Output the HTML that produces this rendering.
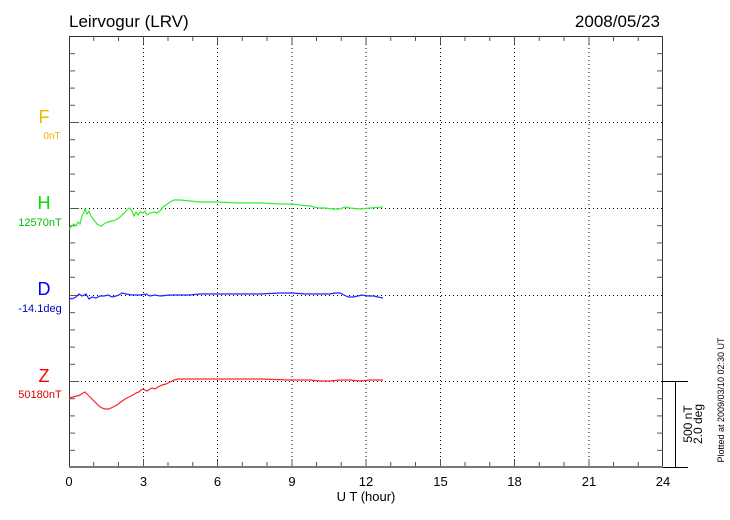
<!DOCTYPE html>
<html><head><meta charset="utf-8"><style>
html,body{margin:0;padding:0;background:#fff;}
svg{display:block;font-family:"Liberation Sans",sans-serif;}
</style></head><body>
<svg width="730" height="520" viewBox="0 0 730 520" xmlns="http://www.w3.org/2000/svg">
<rect width="730" height="520" fill="#fff"/>
<text x="69" y="27" font-size="17" fill="#000">Leirvogur (LRV)</text>
<text x="660" y="27" font-size="17" fill="#000" text-anchor="end">2008/05/23</text>
<g stroke="#000" stroke-width="1" stroke-dasharray="1,3" fill="none">
<line x1="143.5" y1="36" x2="143.5" y2="467"/>
<line x1="217.5" y1="36" x2="217.5" y2="467"/>
<line x1="292" y1="36" x2="292" y2="467"/>
<line x1="366" y1="36" x2="366" y2="467"/>
<line x1="440.5" y1="36" x2="440.5" y2="467"/>
<line x1="514.5" y1="36" x2="514.5" y2="467"/>
<line x1="589" y1="36" x2="589" y2="467"/>
<line x1="69" y1="122.5" x2="663" y2="122.5"/>
<line x1="69" y1="208.5" x2="663" y2="208.5"/>
<line x1="69" y1="295.5" x2="663" y2="295.5"/>
<line x1="69" y1="381.5" x2="663" y2="381.5"/>
</g>
<g stroke="#333" stroke-width="1" fill="none">
<rect x="69.5" y="36.5" width="593" height="430.5"/>
<path id="t" d=""/>
</g>
<g stroke="#555" stroke-width="1">
<!-- left/right y ticks -->
<g id="yt">
<line x1="69" y1="53.7" x2="75" y2="53.7"/><line x1="69" y1="70.9" x2="75" y2="70.9"/><line x1="69" y1="88.1" x2="75" y2="88.1"/><line x1="69" y1="105.3" x2="75" y2="105.3"/><line x1="69" y1="122.5" x2="79" y2="122.5"/>
<line x1="69" y1="139.7" x2="75" y2="139.7"/><line x1="69" y1="156.9" x2="75" y2="156.9"/><line x1="69" y1="174.1" x2="75" y2="174.1"/><line x1="69" y1="191.3" x2="75" y2="191.3"/><line x1="69" y1="208.5" x2="79" y2="208.5"/>
<line x1="69" y1="225.7" x2="75" y2="225.7"/><line x1="69" y1="242.9" x2="75" y2="242.9"/><line x1="69" y1="260.1" x2="75" y2="260.1"/><line x1="69" y1="277.3" x2="75" y2="277.3"/><line x1="69" y1="295.5" x2="79" y2="295.5"/>
<line x1="69" y1="312.7" x2="75" y2="312.7"/><line x1="69" y1="329.9" x2="75" y2="329.9"/><line x1="69" y1="347.1" x2="75" y2="347.1"/><line x1="69" y1="364.3" x2="75" y2="364.3"/><line x1="69" y1="381.5" x2="79" y2="381.5"/>
<line x1="69" y1="398.7" x2="75" y2="398.7"/><line x1="69" y1="415.9" x2="75" y2="415.9"/><line x1="69" y1="433.1" x2="75" y2="433.1"/><line x1="69" y1="450.3" x2="75" y2="450.3"/>
</g>
<g transform="translate(1325,0) scale(-1,1)">
<line x1="662" y1="53.7" x2="668" y2="53.7"/><line x1="662" y1="70.9" x2="668" y2="70.9"/><line x1="662" y1="88.1" x2="668" y2="88.1"/><line x1="662" y1="105.3" x2="668" y2="105.3"/>
<line x1="662" y1="139.7" x2="668" y2="139.7"/><line x1="662" y1="156.9" x2="668" y2="156.9"/><line x1="662" y1="174.1" x2="668" y2="174.1"/><line x1="662" y1="191.3" x2="668" y2="191.3"/>
<line x1="662" y1="225.7" x2="668" y2="225.7"/><line x1="662" y1="242.9" x2="668" y2="242.9"/><line x1="662" y1="260.1" x2="668" y2="260.1"/><line x1="662" y1="277.3" x2="668" y2="277.3"/>
<line x1="662" y1="312.7" x2="668" y2="312.7"/><line x1="662" y1="329.9" x2="668" y2="329.9"/><line x1="662" y1="347.1" x2="668" y2="347.1"/><line x1="662" y1="364.3" x2="668" y2="364.3"/>
<line x1="662" y1="398.7" x2="668" y2="398.7"/><line x1="662" y1="415.9" x2="668" y2="415.9"/><line x1="662" y1="433.1" x2="668" y2="433.1"/><line x1="662" y1="450.3" x2="668" y2="450.3"/>
</g>
<!-- x ticks bottom & top -->
<path d="M93.75 467v-5M118.5 467v-5M143.5 467v-8M168 467v-5M192.75 467v-5M217.5 467v-8M242.25 467v-5M267 467v-5M292 467v-8M316.5 467v-5M341.25 467v-5M366 467v-8M390.75 467v-5M415.5 467v-5M440.5 467v-8M465 467v-5M489.75 467v-5M514.5 467v-8M539.25 467v-5M564 467v-5M589 467v-8M613.5 467v-5M638.25 467v-5"/>
<path d="M93.75 36v5M118.5 36v5M143.5 36v8M168 36v5M192.75 36v5M217.5 36v8M242.25 36v5M267 36v5M292 36v8M316.5 36v5M341.25 36v5M366 36v8M390.75 36v5M415.5 36v5M440.5 36v8M465 36v5M489.75 36v5M514.5 36v8M539.25 36v5M564 36v5M589 36v8M613.5 36v5M638.25 36v5"/>
<path d="M662 381.5h26M675.5 381.5v86M662 467.5h26" stroke="#000"/>
</g>
<line x1="69" y1="467" x2="663" y2="467" stroke="#777" stroke-width="2"/>
<g font-size="13" fill="#000" text-anchor="middle">
<text x="69" y="486">0</text><text x="143.5" y="486">3</text><text x="217.5" y="486">6</text><text x="292" y="486">9</text><text x="366" y="486">12</text><text x="440.5" y="486">15</text><text x="514.5" y="486">18</text><text x="589" y="486">21</text><text x="663" y="486">24</text>
<text x="366" y="501">U T (hour)</text>
</g>
<text font-size="12" fill="#000" text-anchor="middle" transform="translate(692,424) rotate(-90)">500 nT</text>
<text font-size="12" fill="#000" text-anchor="middle" transform="translate(702,424) rotate(-90)">2.0 deg</text>
<text font-size="9" fill="#000" text-anchor="middle" transform="translate(724,400) rotate(-90)">Plotted at 2009/03/10 02:30 UT</text>
<g text-anchor="middle">
<text x="44" y="123" font-size="18" fill="#f5b400">F</text>
<text x="52" y="139" font-size="10" fill="#f5b400">0nT</text>
<text x="44" y="209" font-size="18" fill="#00e000">H</text>
<text x="40" y="226" font-size="11" fill="#00c000">12570nT</text>
<text x="44" y="295" font-size="18" fill="#0000ff">D</text>
<text x="40" y="312" font-size="11" fill="#0000cc">-14.1deg</text>
<text x="44" y="382" font-size="18" fill="#ff0000">Z</text>
<text x="40" y="398" font-size="11" fill="#e00000">50180nT</text>
</g>
<polyline fill="none" stroke="#33ee33" stroke-width="1.2" points="69,229 72,226 74,224 76,226 78,222 80,224 82,216 84,212 85,209 87,214 89,211 91,216 94,220 97,224 101,226 104,224 108,222 112,221 116,220 120,217 124,213 128,209 130,208 132,211 134,216 136,212 138,215 140,212 143,213 145,211 147,215 150,213 154,212 157,213 160,211 163,207 166,205 170,202 174,200 180,200 190,201 200,202 217,202 240,203 260,203 280,204 292,204 300,205 310,206 318,208 325,208 333,209 340,209 345,207 350,208 360,209 370,208 383,207"/>
<polyline fill="none" stroke="#2222ff" stroke-width="1.2" points="69,298 72,299 76,297 79,294 82,296 86,294 89,299 92,297 96,298 100,296 104,296 108,295 112,297 116,296 119,295 122,293 126,294 132,295 140,295 146,294 150,296 155,295 160,296 170,295 180,295 190,295 200,294 215,294 240,294 260,294 280,293 292,293 305,294 320,294 330,294 335,293 340,293 344,295 348,297 353,297 358,296 362,295 368,296 374,296 378,297 383,298"/>
<polyline fill="none" stroke="#ff2222" stroke-width="1.2" points="69,398 73,397 77,396 80,395 83,393 85,392 87,394 90,397 93,400 96,403 99,406 102,408 105,409 109,409 113,407 117,405 121,402 125,399 129,397 133,395 136,393 139,392 141,390 143,389 145,390 147,391 150,389 152,388 155,389 158,387 162,385 166,384 170,382 174,380 178,379 185,379 200,379 230,379 260,379 290,380 310,380 320,381 330,381 340,380 350,380 360,381 370,380 383,380"/>
</svg>
</body></html>
